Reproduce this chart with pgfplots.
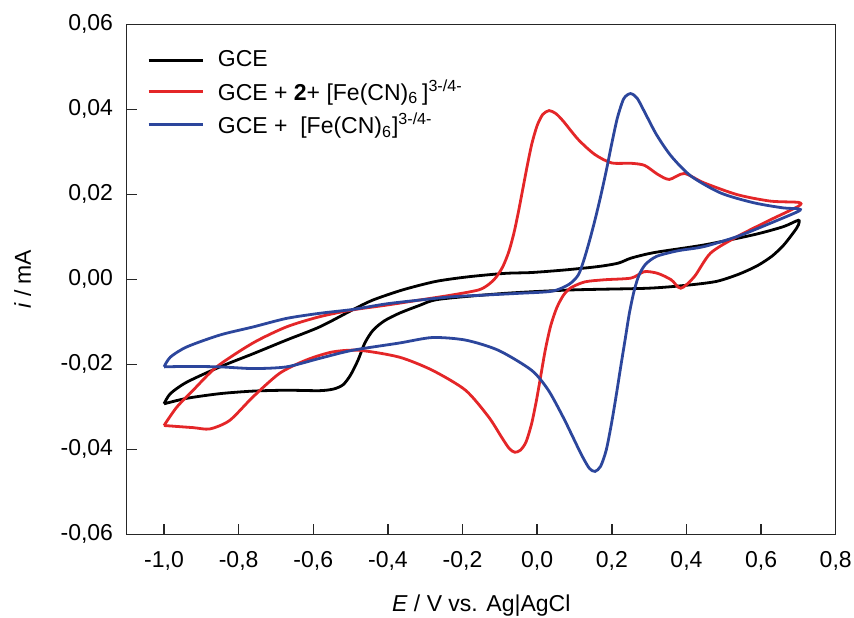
\documentclass[border=0pt]{standalone}
\usepackage{fontspec}
\setmainfont{Liberation Sans}
\usepackage{pgfplots}
\pgfplotsset{compat=1.18}
\definecolor{cvred}{RGB}{228,38,40}
\definecolor{cvblue}{RGB}{44,70,156}
\newcommand\fsz{\fontsize{11.5}{13.8}\selectfont}
\begin{document}
\begin{tikzpicture}
\useasboundingbox (-63.35pt,-41.35pt) rectangle (363.65pt,267.15pt);
\begin{axis}[
  at={(0pt,0pt)}, anchor=south west,
  scale only axis, width=354.5pt, height=255pt,
  xmin=-1.1, xmax=0.8, ymin=-0.06, ymax=0.06,
  xtick={-1.0,-0.8,-0.6,-0.4,-0.2,0,0.2,0.4,0.6,0.8},
  ytick={-0.06,-0.04,-0.02,0,0.02,0.04,0.06},
  tick align=inside, xtick pos=bottom, ytick pos=left,
  major tick length=5pt,
  axis line style={line width=0.7pt, black!85},
  every tick/.style={line width=0.7pt, black!85},
  scaled y ticks=false, scaled x ticks=false,
  /pgf/number format/assume math mode=true,
  tick label style={font=\fsz},
  xticklabel style={yshift=-5pt, /pgf/number format/.cd, fixed, fixed zerofill, precision=1, use comma},
  yticklabel style={xshift=-3.3pt, /pgf/number format/.cd, fixed, fixed zerofill, precision=2, use comma},
  label style={font=\fsz},
  xlabel={\textit{E} / V vs. Ag|AgCl},
  ylabel={\textit{i} / mA},
  xlabel style={at={(axis description cs:0.5,-0.1406)}, anchor=center},
  ylabel style={at={(axis description cs:-0.1467,0.5)}, anchor=center},
  legend cell align=left,
  legend style={draw=none, fill=none, font=\fsz, at={(axis description cs:0,1)}, anchor=north west, xshift=7pt, yshift=-9pt, row sep=1pt},
  legend image code/.code={\draw[#1] (0pt,0pt) -- (27pt,0pt); \path (32pt,0pt);},
  every axis plot/.append style={line width=1.4pt, smooth, tension=0.45},
]
\addplot[black] coordinates {
(-1.000,-0.0293) (-0.983,-0.0269) (-0.939,-0.0242) (-0.850,-0.0206) (-0.761,-0.0175)
(-0.672,-0.0143) (-0.583,-0.0112) (-0.495,-0.0072) (-0.441,-0.0049) (-0.361,-0.0025)
(-0.272,-0.0005) (-0.184,0.0006) (-0.086,0.0014) (-0.015,0.0016) (0.074,0.0022)
(0.163,0.0030) (0.217,0.0038) (0.252,0.0050) (0.314,0.0063) (0.448,0.0081)
(0.581,0.0105) (0.660,0.0124) (0.700,0.0139)
(0.700,0.0128) (0.695,0.0120) (0.680,0.0102) (0.660,0.0080) (0.630,0.0055) (0.590,0.0032)
(0.540,0.0012) (0.480,-0.0005) (0.400,-0.0014)
(0.296,-0.0021) (0.092,-0.0025) (-0.086,-0.0033) (-0.263,-0.0047) (-0.317,-0.0062)
(-0.370,-0.0080) (-0.410,-0.0098) (-0.440,-0.0120) (-0.462,-0.0150) (-0.480,-0.0190)
(-0.500,-0.0225) (-0.520,-0.0248) (-0.545,-0.0258)
(-0.583,-0.0262) (-0.672,-0.0261) (-0.761,-0.0263) (-0.850,-0.0269) (-0.939,-0.0280)
(-1.000,-0.0293)
};
\addlegendentry{GCE}
\addplot[cvred] coordinates {
(-1.000,-0.0344) (-0.966,-0.0301) (-0.922,-0.0261) (-0.859,-0.0206) (-0.762,-0.0150)
(-0.672,-0.0112) (-0.583,-0.0088) (-0.495,-0.0072) (-0.406,-0.0061) (-0.317,-0.0049)
(-0.229,-0.0037) (-0.157,-0.0025) (-0.130,-0.0012) (-0.110,0.0005) (-0.092,0.0030)
(-0.076,0.0065) (-0.062,0.0110) (-0.050,0.0160) (-0.038,0.0215) (-0.026,0.0270)
(-0.014,0.0320) (0.000,0.0362) (0.015,0.0388) (0.032,0.0397) (0.050,0.0390)
(0.070,0.0372) (0.110,0.0329) (0.154,0.0294) (0.199,0.0274)
(0.252,0.0273) (0.288,0.0268) (0.323,0.0247) (0.354,0.0235) (0.394,0.0249)
(0.447,0.0227) (0.537,0.0199) (0.625,0.0184) (0.700,0.0181)
(0.700,0.0172) (0.625,0.0140) (0.537,0.0101) (0.465,0.0062) (0.421,0.0006) (0.385,-0.0021)
(0.359,-0.0001) (0.323,0.0014) (0.287,0.0018) (0.252,0.0003) (0.181,-0.0001)
(0.128,-0.0006) (0.090,-0.0020) (0.070,-0.0038) (0.052,-0.0068) (0.036,-0.0110)
(0.022,-0.0165) (0.010,-0.0225) (-0.002,-0.0285) (-0.015,-0.0340) (-0.030,-0.0383)
(-0.045,-0.0402) (-0.060,-0.0407) (-0.075,-0.0398) (-0.095,-0.0372)
(-0.130,-0.0324) (-0.192,-0.0261) (-0.281,-0.0214)
(-0.370,-0.0183) (-0.477,-0.0167) (-0.549,-0.0171) (-0.619,-0.0190) (-0.690,-0.0221)
(-0.762,-0.0277) (-0.824,-0.0332) (-0.877,-0.0352) (-0.922,-0.0349) (-1.000,-0.0344)
};
\addlegendentry{GCE + \textbf{2}+ [Fe(CN)\textsubscript{6}\,]\textsuperscript{3-/4-}}
\addplot[cvblue] coordinates {
(-1.000,-0.0206) (-0.983,-0.0183) (-0.939,-0.0159) (-0.850,-0.0131) (-0.761,-0.0112)
(-0.672,-0.0092) (-0.583,-0.0080) (-0.495,-0.0071) (-0.406,-0.0058) (-0.317,-0.0049)
(-0.228,-0.0041) (-0.139,-0.0037) (-0.050,-0.0033) (0.040,-0.0028) (0.085,-0.0012)
(0.110,0.0010) (0.125,0.0045) (0.140,0.0090) (0.155,0.0140) (0.170,0.0195)
(0.185,0.0255) (0.200,0.0320) (0.215,0.0380) (0.232,0.0425) (0.250,0.0437)
(0.268,0.0426) (0.290,0.0390) (0.320,0.0340) (0.359,0.0290)
(0.412,0.0243) (0.492,0.0203) (0.581,0.0180) (0.660,0.0168) (0.700,0.0166)
(0.700,0.0160) (0.625,0.0132) (0.537,0.0101) (0.447,0.0077) (0.376,0.0067) (0.320,0.0054)
(0.290,0.0035) (0.272,0.0008) (0.259,-0.0030) (0.247,-0.0080) (0.236,-0.0140)
(0.224,-0.0205) (0.212,-0.0272) (0.199,-0.0340) (0.185,-0.0402) (0.170,-0.0440)
(0.155,-0.0452) (0.140,-0.0445) (0.120,-0.0415) (0.095,-0.0370) (0.070,-0.0325)
(0.030,-0.0261) (-0.015,-0.0214) (-0.104,-0.0167) (-0.192,-0.0143) (-0.281,-0.0137)
(-0.370,-0.0150) (-0.495,-0.0167) (-0.583,-0.0186) (-0.672,-0.0206) (-0.761,-0.0210)
(-0.850,-0.0206) (-0.939,-0.0205) (-1.000,-0.0206)
};
\addlegendentry{GCE +\ \ [Fe(CN)\textsubscript{6}]\textsuperscript{3-/4-}}
\end{axis}
\end{tikzpicture}
\end{document}
